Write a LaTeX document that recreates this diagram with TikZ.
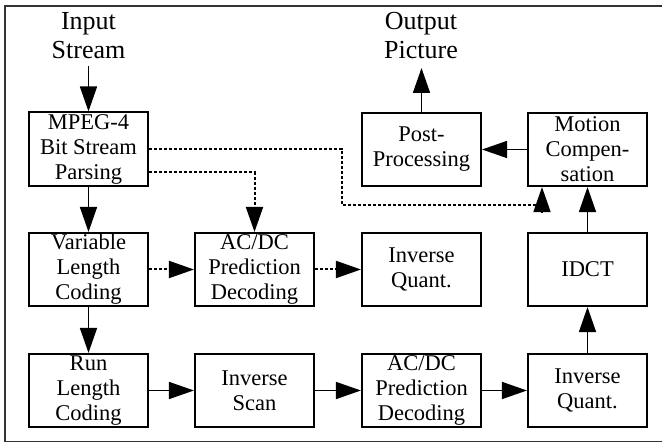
\documentclass[tikz,border=0pt]{standalone}
\usepackage{fontspec}
\setmainfont{Liberation Serif}
\usetikzlibrary{arrows.meta}
\begin{document}
\begin{tikzpicture}[x=1pt,y=-1pt,
  blk/.style={draw,line width=1.6pt,minimum width=119.5pt,minimum height=73.5pt,inner sep=0pt,align=center,font=\fontsize{22.5}{25}\selectfont},
  lbl/.style={inner sep=0pt,anchor=base,font=\fontsize{26}{29}\selectfont},
  arr/.style={line width=1.6pt,-{Triangle[length=25pt,width=17pt]}},
  dsh/.style={line width=2pt,dash pattern=on 3pt off 2pt},
  darr/.style={dsh,-{Triangle[length=25pt,width=17pt]}}]
\useasboundingbox (0,0) rectangle (662,443);
\draw[line width=1.4pt,black!80] (665,6) -- (5,6) -- (5,441.5) -- (665,441.5);
% boxes
\node[blk] (mpeg) at (88.5,149) {MPEG-4\\Bit Stream\\Parsing};
\node[blk] (vlc) at (88.5,269.5) {Variable\\Length\\Coding};
\node[blk] (rlc) at (88.5,390.5) {Run\\Length\\Coding};
\node[blk] (acdca) at (254.5,269.5) {AC/DC\\Prediction\\Decoding};
\node[blk] (iscan) at (254.5,390.5) {Inverse\\Scan};
\node[blk] (iqa) at (421.5,269.5) {Inverse\\Quant.};
\node[blk] (acdcb) at (421.5,390.5) {AC/DC\\Prediction\\Decoding};
\node[blk] (idct) at (587.5,269.5) {IDCT};
\node[blk] (iqb) at (587.5,390.5) {Inverse\\Quant.};
\node[blk] (post) at (421.5,149.5) {Post-\\Processing};
\node[blk] (mc) at (587.5,149.5) {Motion\\Compen-\\sation};
% labels
\node[lbl] (in1) at (88.5,30) {Input};
\node[lbl] (in2) at (88.5,58.5) {Stream};
\node[lbl] (out1) at (421,30) {Output};
\node[lbl] (out2) at (421,58.5) {Picture};
\coordinate (inp) at (88.5,66);
\coordinate (outp) at (421.5,68);
% solid arrows
\draw[arr] (inp) -- (mpeg.north);
\draw[arr] (post.north) -- (outp);
\draw[arr] (mpeg.south) -- (vlc.north);
\draw[arr] (vlc.south) -- (rlc.north);
\draw[arr] (rlc.east) -- (iscan.west);
\draw[arr] (iscan.east) -- (acdcb.west);
\draw[arr] (acdcb.east) -- (iqb.west);
\draw[arr] (iqb.north) -- (idct.south);
\draw[arr] (idct.north) -- (mc.south);
\draw[arr] (mc.west) -- (post.east);
% dashed arrows
\draw[darr] (vlc.east) -- (acdca.west);
\draw[darr] (acdca.east) -- (iqa.west);
\draw[darr] ([yshift=-23pt]mpeg.east) -| (acdca.north);
\coordinate (d1) at (342,149);
\coordinate (d2) at (342,205);
\coordinate (d3) at (542,205);
\draw[dsh] (mpeg.east) -- (d1) -- (d2) -- (d3);
\draw[arr] ([yshift=-8pt]d3) -- (d3 |- mc.south);
\end{tikzpicture}
\end{document}
